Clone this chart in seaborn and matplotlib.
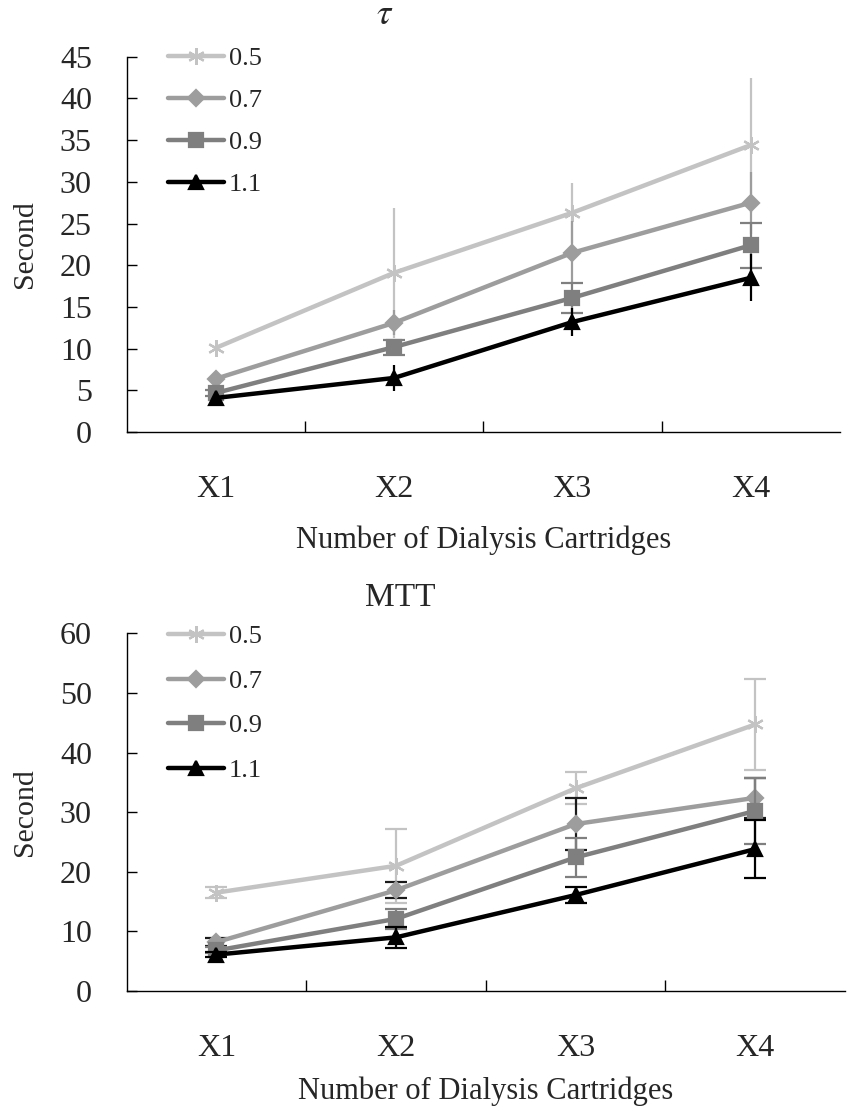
import matplotlib
matplotlib.use("Agg")
import matplotlib.pyplot as plt
import numpy as np
import pandas as pd
import seaborn as sns

# categories and series
cartridges = ["X1", "X2", "X3", "X4"]
flows = ["0.5", "0.7", "0.9", "1.1"]

# tau (second) means and error half-widths
tau_05 = [10.1, 19.1, 26.3, 34.4]
tau_07 = [6.4, 13.1, 21.5, 27.5]
tau_09 = [4.7, 10.2, 16.1, 22.4]
tau_11 = [4.1, 6.5, 13.2, 18.5]
tau_05_err = [0.4, 7.8, 3.6, 8.1]
tau_07_err = [0.4, 1.5, 3.8, 3.7]
tau_09_err = [0.4, 0.9, 1.8, 2.7]
tau_11_err = [0.3, 1.6, 1.7, 2.8]

# MTT (second) means and error half-widths
mtt_05 = [16.5, 21.0, 34.0, 44.7]
mtt_07 = [8.2, 16.9, 28.0, 32.4]
mtt_09 = [6.8, 12.1, 22.4, 30.2]
mtt_11 = [6.1, 9.0, 16.1, 23.8]
mtt_05_err = [0.9, 6.2, 2.7, 7.6]
mtt_07_err = [0.7, 1.3, 4.4, 3.3]
mtt_09_err = [0.5, 1.7, 3.3, 5.5]
mtt_11_err = [0.4, 1.8, 1.3, 4.9]

sns.set_theme(style="white")
plt.rcParams["font.family"] = ["Liberation Serif", "DejaVu Serif"]
plt.rcParams["mathtext.fontset"] = "stix"

colors = {"0.5": "#c3c3c3", "0.7": "#9d9d9d", "0.9": "#7f7f7f", "1.1": "#000000"}
markers = {"0.5": (6, 2, 0), "0.7": "D", "0.9": "s", "1.1": "^"}
msizes = {"0.5": 12, "0.7": 8, "0.9": 10, "1.1": 10}


def long_frame(means, errs):
    rows = []
    for f, m, e in zip(flows, means, errs):
        for c, v, ev in zip(cartridges, m, e):
            rows.append({"cartridges": c, "flow": f, "second": v, "err": ev})
    return pd.DataFrame(rows)


def draw_panel(ax, df, ymax, ystep, err_colors, err_caps, legend_y, spacing,
               xlabel_pad):
    x_pos = {c: i for i, c in enumerate(cartridges)}
    for k, f in enumerate(flows):
        sub = df[df["flow"] == f]
        xs = [x_pos[c] for c in sub["cartridges"]]
        ax.errorbar(xs, sub["second"], yerr=sub["err"], fmt="none",
                    ecolor=err_colors[f], elinewidth=1.6,
                    capsize=8 if err_caps[f] else 0, capthick=1.6,
                    zorder=2 + 2 * k)
        sns.lineplot(data=sub, x="cartridges", y="second", color=colors[f],
                     marker=markers[f], markersize=msizes[f],
                     markeredgecolor=colors[f], markeredgewidth=1.6,
                     linewidth=3.2, sort=False, ax=ax, zorder=3 + 2 * k)

    ax.set_xlim(-0.5, 3.5)
    ax.set_ylim(0, ymax)
    ax.set_yticks(np.arange(0, ymax + 0.1, ystep))
    ax.set_xticks(range(len(cartridges)))
    ax.set_xticklabels(cartridges)
    ax.set_xticks([0.5, 1.5, 2.5], minor=True)
    ax.tick_params(axis="x", which="major", length=0, pad=31, labelsize=23)
    ax.tick_params(axis="x", which="minor", direction="in", length=8,
                   width=1.0, color="black", bottom=True)
    ax.tick_params(axis="y", direction="in", length=7, width=1.0,
                   color="black", left=True, labelsize=23, pad=25)
    for s in ["top", "right"]:
        ax.spines[s].set_visible(False)
    for s in ["left", "bottom"]:
        ax.spines[s].set_color("black")
        ax.spines[s].set_linewidth(1.0)
    ax.set_xlabel("Number of Dialysis Cartridges", fontsize=22,
                  labelpad=xlabel_pad)
    ax.set_ylabel("Second", fontsize=21.5, labelpad=16)

    handles = [plt.Line2D([], [], color=colors[f], marker=markers[f],
                          markersize=msizes[f], markeredgecolor=colors[f],
                          linewidth=3.2, markeredgewidth=1.6) for f in flows]
    ax.legend(handles, flows, loc="upper left", bbox_to_anchor=(0.025, legend_y),
              frameon=False, fontsize=19, handlelength=2.1, handletextpad=0.2,
              labelspacing=spacing)


fig = plt.figure(figsize=(8.5, 11.11), dpi=100)
ax1 = fig.add_axes([0.149, 0.611, 0.839, 0.338])
ax2 = fig.add_axes([0.149, 0.108, 0.845, 0.322])

tau_df = long_frame([tau_05, tau_07, tau_09, tau_11],
                    [tau_05_err, tau_07_err, tau_09_err, tau_11_err])
mtt_df = long_frame([mtt_05, mtt_07, mtt_09, mtt_11],
                    [mtt_05_err, mtt_07_err, mtt_09_err, mtt_11_err])

draw_panel(ax1, tau_df, 45, 5, colors,
           {"0.5": False, "0.7": False, "0.9": True, "1.1": False},
           1.09, 0.7, 15)
mtt_err_colors = dict(colors)
mtt_err_colors["0.7"] = "#1a1a1a"
draw_panel(ax2, mtt_df, 60, 10, mtt_err_colors,
           {"0.5": True, "0.7": True, "0.9": True, "1.1": True},
           1.09, 0.8, 10)

fig.text(0.453, 0.986, r"$\tau$", ha="center", va="center", fontsize=26)
fig.text(0.471, 0.462, "MTT", ha="center", va="center", fontsize=24)

fig.savefig("out.png", dpi=100)
